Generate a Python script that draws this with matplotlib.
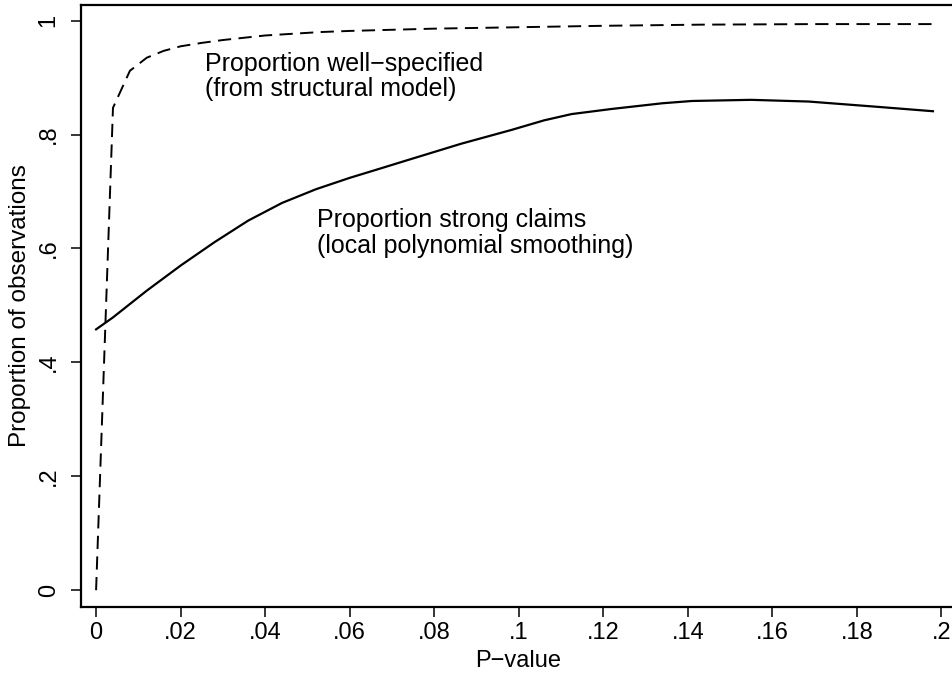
import numpy as np
import matplotlib
matplotlib.use("Agg")
import matplotlib.pyplot as plt

# Well-specified share (structural model), dashed
pval_spec = [0.0, 0.004, 0.008, 0.012, 0.016, 0.020, 0.025, 0.030, 0.040,
             0.053, 0.060, 0.080, 0.096, 0.120, 0.143, 0.170, 0.198]
prop_spec = [0.0, 0.847, 0.912, 0.935, 0.947, 0.955, 0.961, 0.966, 0.974,
             0.980, 0.982, 0.986, 0.988, 0.991, 0.993, 0.994, 0.994]

# Strong claims share (local polynomial smoothing), solid
pval_strong = [0.0, 0.004, 0.012, 0.020, 0.028, 0.036, 0.044, 0.052, 0.060,
               0.0675, 0.0745, 0.0864, 0.0982, 0.106, 0.1125, 0.122, 0.134,
               0.141, 0.155, 0.1686, 0.1844, 0.198]
prop_strong = [0.458, 0.479, 0.526, 0.570, 0.611, 0.649, 0.680, 0.704, 0.724,
               0.741, 0.757, 0.784, 0.808, 0.825, 0.836, 0.845, 0.855,
               0.859, 0.861, 0.858, 0.849, 0.841]

x_ticks = [0, 0.02, 0.04, 0.06, 0.08, 0.1, 0.12, 0.14, 0.16, 0.18, 0.2]
x_ticklabels = ["0", ".02", ".04", ".06", ".08", ".1", ".12", ".14", ".16", ".18", ".2"]
y_ticks = [0, 0.2, 0.4, 0.6, 0.8, 1.0]
y_ticklabels = ["0", ".2", ".4", ".6", ".8", "1"]

spec_label = ["Proportion well\u2212specified", "(from structural model)"]
strong_label = ["Proportion strong claims", "(local polynomial smoothing)"]

plt.rcParams["font.family"] = ["Liberation Sans", "DejaVu Sans"]

fig = plt.figure(figsize=(9.53, 6.77), dpi=100)
ax = fig.add_axes([0.0845, 0.1038, 0.918, 0.8888])

ax.plot(pval_spec, prop_spec, color="black", lw=1.4, linestyle=(0, (6.8, 3.8)))
ax.plot(pval_strong, prop_strong, color="black", lw=1.6)

# Text labels next to the curves
for i, line in enumerate(spec_label):
    ax.text(0.0258, 0.912 - i * 0.0447, line, fontsize=18, va="baseline", ha="left")
for i, line in enumerate(strong_label):
    ax.text(0.0522, 0.637 - i * 0.0447, line, fontsize=18, va="baseline", ha="left")

ax.set_xlim(-0.00368, 0.2033)
ax.set_ylim(-0.029, 1.0275)

ax.set_xticks(x_ticks)
ax.set_xticklabels(x_ticklabels)
ax.set_yticks(y_ticks)
ax.set_yticklabels(y_ticklabels, rotation=90, va="center")

ax.tick_params(axis="both", direction="out", length=7, width=1.1, labelsize=17)
ax.tick_params(axis="x", pad=4)
ax.tick_params(axis="y", pad=8)

for side in ["left", "bottom", "top", "right"]:
    ax.spines[side].set_linewidth(1.6)

ax.set_xlabel("P\u2212value", fontsize=17)
ax.set_ylabel("Proportion of observations", fontsize=17.5)
ax.xaxis.label.set_va("baseline")
ax.xaxis.set_label_coords(0.5, -0.1002)
ax.yaxis.label.set_va("center")
ax.yaxis.set_label_coords(-0.069, 0.5)

fig.savefig("out.png", dpi=100, facecolor="white")
